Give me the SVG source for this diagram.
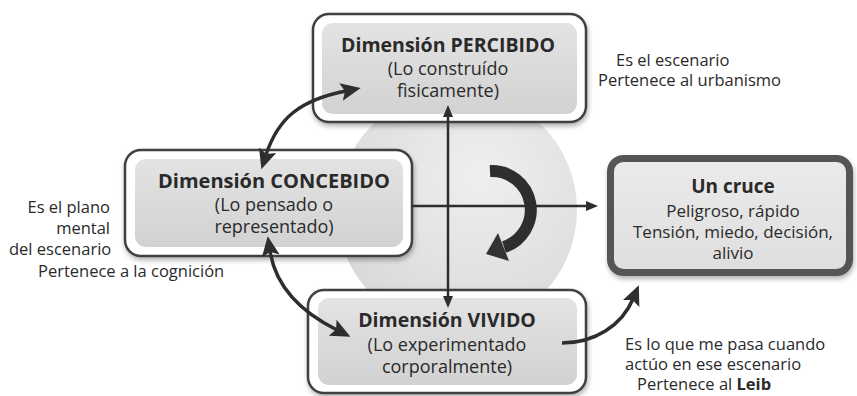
<svg xmlns="http://www.w3.org/2000/svg" width="857" height="396" viewBox="0 0 857 396">
<style>
  text { font-family: "Open Sans", "Liberation Sans", sans-serif; fill: #2a2a2a; }
  .title { font-size: 19.5px; font-weight: 700; text-anchor: middle; }
  .body { font-size: 18px; text-anchor: middle; }
  .note { font-size: 16.5px; }
  .outer { fill: #ffffff; stroke: #3f3f3f; stroke-width: 2.5; }
  .inner { fill: url(#innerGrad); }
  .conn { fill: none; stroke: #2e2e2e; }
</style>
<defs>
  <linearGradient id="innerGrad" x1="0" y1="0" x2="0" y2="1">
    <stop offset="0" stop-color="#e3e3e3"/>
    <stop offset="1" stop-color="#d2d2d2"/>
  </linearGradient>
  <linearGradient id="cruceGrad" x1="0" y1="0" x2="0" y2="1">
    <stop offset="0" stop-color="#ebebeb"/>
    <stop offset="1" stop-color="#dedede"/>
  </linearGradient>
  <radialGradient id="circGrad" cx="0.6" cy="0.35" r="0.7">
    <stop offset="0" stop-color="#efefef"/>
    <stop offset="1" stop-color="#d9d9d9"/>
  </radialGradient>
  <filter id="shadow" x="-10%" y="-10%" width="125%" height="135%">
    <feDropShadow dx="1" dy="3" stdDeviation="2.5" flood-color="#000" flood-opacity="0.3"/>
  </filter>
  <marker id="ah" markerUnits="userSpaceOnUse" viewBox="0 0 12 10" markerWidth="12" markerHeight="10" refX="3" refY="5" orient="auto-start-reverse">
    <path d="M0,0 L12,5 L0,10 z" fill="#2e2e2e"/>
  </marker>
  <marker id="ahc" markerUnits="userSpaceOnUse" viewBox="0 0 20 18" markerWidth="20" markerHeight="18" refX="5" refY="9" orient="auto-start-reverse">
    <path d="M0,0 L20,9 L0,18 L4,9 z" fill="#2e2e2e"/>
  </marker>
</defs>

<rect width="857" height="396" fill="#ffffff"/>

<g id="background-circle">
  <circle cx="457" cy="210" r="120" fill="url(#circGrad)"/>
</g>

<g id="node-percibido">
  <rect class="outer" x="313" y="14" width="273" height="108" rx="16" filter="url(#shadow)"/>
  <rect class="inner" x="322" y="23" width="255" height="91" rx="11"/>
  <text class="title" x="448" y="52">Dimensión PERCIBIDO</text>
  <text class="body" x="448" y="75">(Lo construído</text>
  <text class="body" x="448" y="97">fìsicamente)</text>
</g>

<g id="node-concebido">
  <rect class="outer" x="125" y="150" width="287" height="106" rx="16" filter="url(#shadow)"/>
  <rect class="inner" x="135" y="159" width="268" height="88" rx="11"/>
  <text class="title" x="274" y="188" style="font-size:20px">Dimensión CONCEBIDO</text>
  <text class="body" x="274" y="211">(Lo pensado o</text>
  <text class="body" x="274" y="233">representado)</text>
</g>

<g id="node-vivido">
  <rect class="outer" x="308" y="290" width="278" height="103" rx="16" filter="url(#shadow)"/>
  <rect class="inner" x="318" y="298" width="259" height="87" rx="11"/>
  <text class="title" x="447" y="327">Dimensión VIVIDO</text>
  <text class="body" x="447" y="351">(Lo experimentado</text>
  <text class="body" x="447" y="373">corporalmente)</text>
</g>

<g id="node-cruce">
  <rect x="610.5" y="158.5" width="239" height="114" rx="13" fill="url(#cruceGrad)" stroke="#555555" stroke-width="7" filter="url(#shadow)"/>
  <text x="733" y="193" style="font-size:19px;font-weight:700;text-anchor:middle">Un cruce</text>
  <text class="body" x="733" y="217" style="font-size:17px">Peligroso, rápido</text>
  <text class="body" x="733" y="238" style="font-size:17px">Tensión, miedo, decisión,</text>
  <text class="body" x="733" y="259" style="font-size:17px">alivio</text>
</g>

<g id="labels">
  <text class="note" x="616" y="66">Es el escenario</text>
  <text class="note" x="598" y="86">Pertenece al urbanismo</text>
  <text class="note" x="110" y="213" text-anchor="end">Es el plano</text>
  <text class="note" x="110" y="234" text-anchor="end">mental</text>
  <text class="note" x="9" y="255">del escenario</text>
  <text class="note" x="38" y="277">Pertenece a la cognición</text>
  <text class="note" x="625" y="350">Es lo que me pasa cuando</text>
  <text class="note" x="625" y="370">actúo en ese escenario</text>
  <text class="note" x="637" y="390">Pertenece al <tspan font-weight="700">Leib</tspan></text>
</g>

<g id="connectors">
  <path class="conn" d="M448,114 L448,299" stroke-width="2.5" marker-start="url(#ah)" marker-end="url(#ah)"/>
  <path class="conn" d="M412,206 L589,206" stroke-width="2.5" marker-end="url(#ah)"/>
  <path class="conn" d="M266,155 C278,118 300,100 346,91" stroke-width="3.5" marker-start="url(#ahc)" marker-end="url(#ahc)"/>
  <path class="conn" d="M270,251 C276,290 305,314 337,330" stroke-width="3.5" marker-start="url(#ahc)" marker-end="url(#ahc)"/>
  <path class="conn" d="M562,343 C595,343 622,325 633,299" stroke-width="3.5" marker-end="url(#ahc)"/>
  <path class="conn" d="M490,171 A39,39 0 0 1 504,247" stroke="#333333" stroke-width="12"/>
  <polygon points="486,254 498,233 509,261" fill="#333333"/>
</g>
</svg>
